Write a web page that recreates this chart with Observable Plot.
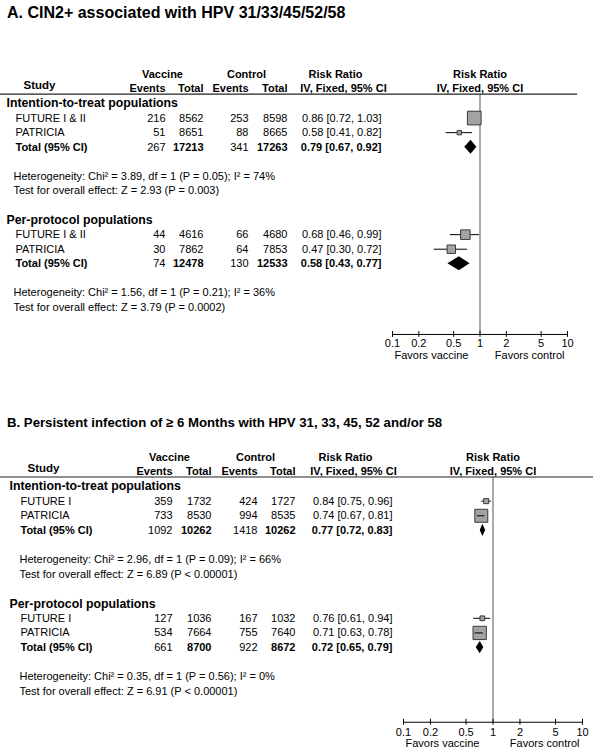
<!DOCTYPE html>
<html><head><meta charset="utf-8">
<script src="https://cdn.jsdelivr.net/npm/d3@7"></script>
<script src="https://cdn.jsdelivr.net/npm/@observablehq/plot@0.6"></script>
<style>
body{margin:0;background:#fff;font-family:"Liberation Sans",Arial,sans-serif;}
#wrap{width:600px;height:754px;position:relative;overflow:hidden;background:#fff}
.title{font-weight:bold;color:#000;padding-left:7px;white-space:nowrap}
#tA{height:26px;line-height:26px;font-size:16px}
#tB{height:60px;box-sizing:border-box;padding-top:38px;line-height:16px;font-size:13.2px}
svg{display:block}
</style></head><body>
<div id="wrap"><div id="tA" class="title"></div><div id="pA"></div><div id="tB" class="title"></div><div id="pB"></div></div>
<script>
// ---------------- DATA ----------------
const titleA = "A. CIN2+ associated with HPV 31/33/45/52/58";
const titleB = "B. Persistent infection of \u2265 6 Months with HPV 31, 33, 45, 52 and/or 58";
const groups = ["Intention-to-treat populations", "Per-protocol populations"];
const ticks = [0.1, 0.2, 0.5, 1, 2, 5, 10];
const favors = ["Favors vaccine", "Favors control"];

// Panel A (order: ITT study1, ITT study2, PP study1, PP study2)
const studiesA = ["FUTURE I & II", "PATRICIA"];
const aVacEvents = [216, 51, 44, 30];
const aVacTotal = [8562, 8651, 4616, 7862];
const aCtrlEvents = [253, 88, 66, 64];
const aCtrlTotal = [8598, 8665, 4680, 7853];
const aRR = [0.86, 0.58, 0.68, 0.47];
const aLo = [0.72, 0.41, 0.46, 0.30];
const aHi = [1.03, 0.82, 0.99, 0.72];
const aWeight = [76, 24, 53, 47];
const aTotVacEvents = [267, 74];
const aTotVacTotal = [17213, 12478];
const aTotCtrlEvents = [341, 130];
const aTotCtrlTotal = [17263, 12533];
const aTotRR = [0.79, 0.58];
const aTotLo = [0.67, 0.43];
const aTotHi = [0.92, 0.77];
const aHet = ["Heterogeneity: Chi\u00b2 = 3.89, df = 1 (P = 0.05); I\u00b2 = 74%", "Heterogeneity: Chi\u00b2 = 1.56, df = 1 (P = 0.21); I\u00b2 = 36%"];
const aTest = ["Test for overall effect: Z = 2.93 (P = 0.003)", "Test for overall effect: Z = 3.79 (P = 0.0002)"];

// Panel B
const studiesB = ["FUTURE I", "PATRICIA"];
const bVacEvents = [359, 733, 127, 534];
const bVacTotal = [1732, 8530, 1036, 7664];
const bCtrlEvents = [424, 994, 167, 755];
const bCtrlTotal = [1727, 8535, 1032, 7640];
const bRR = [0.84, 0.74, 0.76, 0.71];
const bLo = [0.75, 0.67, 0.61, 0.63];
const bHi = [0.96, 0.81, 0.94, 0.78];
const bWeight = [28, 72, 26, 74];
const bTotVacEvents = [1092, 661];
const bTotVacTotal = [10262, 8700];
const bTotCtrlEvents = [1418, 922];
const bTotCtrlTotal = [10262, 8672];
const bTotRR = [0.77, 0.72];
const bTotLo = [0.72, 0.65];
const bTotHi = [0.83, 0.79];
const bHet = ["Heterogeneity: Chi\u00b2 = 2.96, df = 1 (P = 0.09); I\u00b2 = 66%", "Heterogeneity: Chi\u00b2 = 0.35, df = 1 (P = 0.56); I\u00b2 = 0%"];
const bTest = ["Test for overall effect: Z = 6.89 (P < 0.00001)", "Test for overall effect: Z = 6.91 (P < 0.00001)"];

// ---------------- LAYOUT ----------------
const layoutA = {
  height: 351, yRange: [47.86, 281], xRange: [392, 567], marginRight: 23,
  groupX: 6, nameX: 15, studyX: 39, vacX: 162, ctrlX: 246,
  cols: [165, 203, 248, 287], rrX: 381, rrHeadX: 335, ivHeadX: 343, hetX: 13,
  axisRow: 15.85, tickLabelRow: 16.5, favorsRow: 17.3, diamondH: 0.48
};
const layoutB = {
  height: 317, yRange: [19.72, 254], xRange: [403, 582], marginRight: 7,
  groupX: 9, nameX: 20, studyX: 43, vacX: 169, ctrlX: 255,
  cols: [172, 211, 257, 295], rrX: 392, rrHeadX: 345, ivHeadX: 353, hetX: 19,
  axisRow: 16.1, tickLabelRow: 16.8, favorsRow: 17.55, diamondH: 0.42
};
const boxPx = 0.18; // box side (px) per weight unit
const groupRows = [0, 8], studyRows = [1, 2, 9, 10], totalRows = [3, 11], hetRows = [5, 13], testRows = [6, 14];
const headRow1 = -2, headRow2 = -1, studyHeadRow = -1.25, lineRow = -0.65;

const fmtRR = (r, l, h) => `${r.toFixed(2)} [${l.toFixed(2)}, ${h.toFixed(2)}]`;

function forest(L, d) {
  const studies = d.vE.map((_, i) => ({
    row: studyRows[i], name: d.names[i % 2],
    vE: d.vE[i], vT: d.vT[i], cE: d.cE[i], cT: d.cT[i],
    rr: d.rr[i], lo: d.lo[i], hi: d.hi[i], w: d.w[i]
  }));
  const totals = d.tvE.map((_, g) => ({
    row: totalRows[g], name: "Total (95% CI)",
    vE: d.tvE[g], vT: d.tvT[g], cE: d.tcE[g], cT: d.tcT[g],
    rr: d.trr[g], lo: d.tlo[g], hi: d.thi[g]
  }));
  const diamonds = totals.flatMap((t, g) => [
    {g, x: t.lo, y1: t.row, y2: t.row},
    {g, x: t.rr, y1: t.row - L.diamondH, y2: t.row + L.diamondH},
    {g, x: t.hi, y1: t.row, y2: t.row}
  ]);
  // CI segments narrower than their box are drawn across the box (as in RevMan)
  const pxPerDecade = (L.xRange[1] - L.xRange[0]) / 2;
  const inner = studies.filter(s => Math.log10(s.hi / s.lo) * pxPerDecade < s.w * boxPx - 2);
  const groupLabels = groups.map((t, g) => ({row: groupRows[g], t}));
  const notes = [
    ...d.het.map((t, g) => ({row: hetRows[g], t})),
    ...d.test.map((t, g) => ({row: testRows[g], t}))
  ];
  const T = (data, text, dx, anchor, weight = "normal", fontSize = 11) =>
    Plot.text(data, {text, y: "row", frameAnchor: "left", dx, textAnchor: anchor, fontWeight: weight, fontSize, fill: "black"});
  const head = (t, row) => [{t, row}];
  const lo = ticks[0], hi = ticks[ticks.length - 1];
  const S = k => r => String(r[k]);

  return Plot.plot({
    width: 600, height: L.height,
    marginLeft: 0, marginTop: 0, marginBottom: 0, marginRight: L.marginRight,
    x: {type: "log", domain: [lo, hi], range: L.xRange, axis: null},
    y: {domain: [-2, 14], range: L.yRange, axis: null},
    r: {type: "linear", domain: [0, 100], range: [0, 100 * boxPx / Math.sqrt(Math.PI)]},
    style: {fontFamily: "'Liberation Sans', Arial, sans-serif", fontSize: "11px", background: "white", color: "black"},
    marks: [
      // headers
      T(head("Study", studyHeadRow), "t", L.studyX, "middle", "bold", 11.5),
      T(head("Vaccine", headRow1), "t", L.vacX, "middle", "bold"),
      T(head("Control", headRow1), "t", L.ctrlX, "middle", "bold"),
      T(head("Events", headRow2), "t", L.cols[0], "end", "bold"),
      T(head("Total", headRow2), "t", L.cols[1], "end", "bold"),
      T(head("Events", headRow2), "t", L.cols[2], "end", "bold"),
      T(head("Total", headRow2), "t", L.cols[3], "end", "bold"),
      T(head("Risk Ratio", headRow1), "t", L.rrHeadX, "middle", "bold"),
      T(head("IV, Fixed, 95% CI", headRow2), "t", L.ivHeadX, "middle", "bold"),
      Plot.text([{t: "Risk Ratio", row: headRow1, x: 1}, {t: "IV, Fixed, 95% CI", row: headRow2, x: 1}],
        {x: "x", y: "row", text: "t", fontWeight: "bold", fill: "black"}),
      Plot.ruleY([lineRow], {stroke: "#222", strokeWidth: 1.2}),
      // group labels
      T(groupLabels, "t", L.groupX, "start", "bold", 12.3),
      // study rows
      T(studies, "name", L.nameX, "start"),
      T(studies, S("vE"), L.cols[0], "end"),
      T(studies, S("vT"), L.cols[1], "end"),
      T(studies, S("cE"), L.cols[2], "end"),
      T(studies, S("cT"), L.cols[3], "end"),
      T(studies, s => fmtRR(s.rr, s.lo, s.hi), L.rrX, "end"),
      // totals
      T(totals, "name", L.nameX, "start", "bold"),
      T(totals, S("vE"), L.cols[0], "end"),
      T(totals, S("vT"), L.cols[1], "end", "bold"),
      T(totals, S("cE"), L.cols[2], "end"),
      T(totals, S("cT"), L.cols[3], "end", "bold"),
      T(totals, s => fmtRR(s.rr, s.lo, s.hi), L.rrX, "end", "bold"),
      // notes
      T(notes, "t", L.hetX, "start"),
      // forest: line of no effect
      Plot.ruleX([{x: 1, y1: lineRow, y2: L.axisRow}], {x: "x", y1: "y1", y2: "y2", stroke: "#555", strokeWidth: 1}),
      // CIs and boxes
      Plot.ruleY(studies, {y: "row", x1: "lo", x2: "hi", stroke: "black", strokeWidth: 1}),
      Plot.dot(studies, {x: "rr", y: "row", r: "w", symbol: "square", fill: "#a3a3a3", stroke: "#3a3a3a", strokeWidth: 1}),
      Plot.ruleY(inner, {y: "row", x1: "lo", x2: "hi", stroke: "black", strokeWidth: 1}),
      // diamonds
      Plot.areaY(diamonds, {x: "x", y1: "y1", y2: "y2", z: "g", fill: "black", curve: "linear"}),
      // axis
      Plot.ruleY([{y: L.axisRow, a: lo, b: hi}], {y: "y", x1: "a", x2: "b", stroke: "black"}),
      Plot.ruleX(ticks, {x: t => t, y1: () => L.axisRow - 0.2, y2: () => L.axisRow + 0.2, stroke: "black"}),
      Plot.text(ticks, {x: t => t, y: () => L.tickLabelRow, text: t => String(t), fill: "black"}),
      Plot.text([{t: favors[0], x: lo}], {x: "x", y: () => L.favorsRow, text: "t", textAnchor: "start", dx: 2, fill: "black"}),
      Plot.text([{t: favors[1], x: hi}], {x: "x", y: () => L.favorsRow, text: "t", textAnchor: "end", dx: -3, fill: "black"})
    ]
  });
}

document.getElementById("tA").textContent = titleA;
document.getElementById("tB").textContent = titleB;
document.getElementById("pA").appendChild(forest(layoutA, {
  names: studiesA, vE: aVacEvents, vT: aVacTotal, cE: aCtrlEvents, cT: aCtrlTotal,
  rr: aRR, lo: aLo, hi: aHi, w: aWeight,
  tvE: aTotVacEvents, tvT: aTotVacTotal, tcE: aTotCtrlEvents, tcT: aTotCtrlTotal,
  trr: aTotRR, tlo: aTotLo, thi: aTotHi, het: aHet, test: aTest
}));
document.getElementById("pB").appendChild(forest(layoutB, {
  names: studiesB, vE: bVacEvents, vT: bVacTotal, cE: bCtrlEvents, cT: bCtrlTotal,
  rr: bRR, lo: bLo, hi: bHi, w: bWeight,
  tvE: bTotVacEvents, tvT: bTotVacTotal, tcE: bTotCtrlEvents, tcT: bTotCtrlTotal,
  trr: bTotRR, tlo: bTotLo, thi: bTotHi, het: bHet, test: bTest
}));
</script>
</body></html>
